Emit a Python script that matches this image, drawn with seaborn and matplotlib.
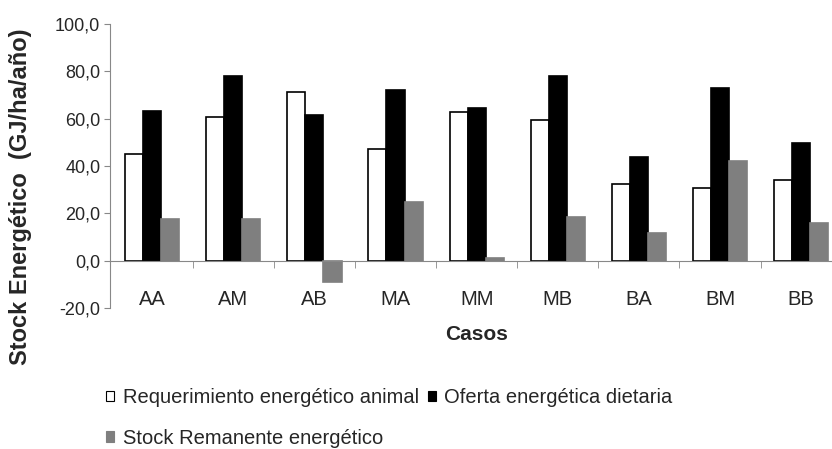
import numpy as np
import pandas as pd
import seaborn as sns
import matplotlib
matplotlib.use("Agg")
import matplotlib.pyplot as plt
from matplotlib.ticker import FuncFormatter, FixedLocator

casos = ["AA", "AM", "AB", "MA", "MM", "MB", "BA", "BM", "BB"]
requerimiento = [45.2, 60.9, 71.1, 47.3, 63.0, 59.5, 32.6, 30.9, 33.9]
oferta = [63.3, 78.1, 61.7, 72.2, 64.7, 78.1, 43.8, 72.9, 49.6]
stock = [17.5, 17.5, -9.1, 25.0, 1.0, 18.3, 11.5, 42.2, 16.0]
series = ["Requerimiento energético animal", "Oferta energética dietaria",
          "Stock Remanente energético"]
colores = ["white", "black", "#7f7f7f"]

df = pd.DataFrame({
    "Casos": casos * 3,
    "valor": requerimiento + oferta + stock,
    "serie": [series[0]] * 9 + [series[1]] * 9 + [series[2]] * 9,
})

sns.set_style("white")
plt.rcParams["font.family"] = ["Liberation Sans", "DejaVu Sans"]

fig = plt.figure(figsize=(8.32, 4.49), dpi=100)
ax = fig.add_axes([110 / 832, 1 - 308 / 449, 1 - 110 / 832, (308 - 24) / 449])

sns.barplot(data=df, x="Casos", y="valor", hue="serie", palette=colores,
            width=0.67, ax=ax, legend=False)
for cont, col in zip(ax.containers, ["black", "black", "#7f7f7f"]):
    for p in cont:
        p.set_edgecolor(col)
        p.set_linewidth(1.2)

ax.set_ylim(-20, 100)
ax.set_xlim(-0.52, 8.38)
ax.set_yticks(np.arange(-20, 101, 20))
ax.yaxis.set_major_formatter(FuncFormatter(lambda v, p: f"{v:.1f}".replace(".", ",")))
ax.tick_params(axis="y", direction="out", length=4, color="#888888",
               labelsize=13, pad=3, left=True)

ax.spines["top"].set_visible(False)
ax.spines["right"].set_visible(False)
ax.spines["bottom"].set_position(("data", 0))
ax.spines["left"].set_color("#888888")
ax.spines["bottom"].set_color("#888888")

ax.tick_params(axis="x", which="major", length=0, pad=21, labelsize=14.5)
ax.xaxis.set_minor_locator(FixedLocator(np.arange(0.5, 8.5, 1)))
ax.tick_params(axis="x", which="minor", direction="out", length=5,
               color="#888888", bottom=True)

ax.set_xlabel("Casos", fontsize=15, fontweight="bold")
ax.xaxis.set_label_coords((477 - 110) / 722, -(325 - 308) / 284)
ax.set_ylabel("Stock Energético  (GJ/ha/año)", fontsize=17, fontweight="bold")
ax.yaxis.set_label_coords((21 - 110) / 722, (308 - 197) / 284)
ax.yaxis.label.set_va("center")

handles = [plt.Rectangle((0, 0), 1, 1, facecolor=c,
                         edgecolor="black" if i < 2 else c, linewidth=0.8)
           for i, c in enumerate(colores)]
order = [0, 2, 1]
fig.legend([handles[i] for i in order], [series[i] for i in order],
           loc="upper left", bbox_to_anchor=(106 / 832, 1 - 388 / 449),
           ncol=2, frameon=False, fontsize=14.5,
           handlelength=0.42, handleheight=0.42, handletextpad=0.4,
           columnspacing=0.45, labelspacing=1.08, borderaxespad=0, borderpad=0)

fig.savefig("out.png", dpi=100)
